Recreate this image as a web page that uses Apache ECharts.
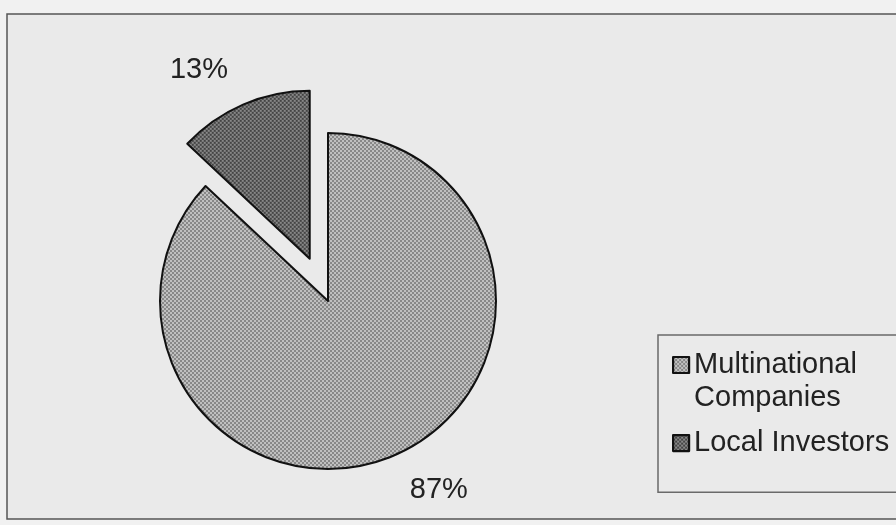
<!DOCTYPE html>
<html>
<head>
<meta charset="utf-8">
<script src="https://cdn.jsdelivr.net/npm/echarts@6/dist/echarts.min.js"></script>
<style>
  html, body { margin: 0; padding: 0; background: #f1f1f1; }
  #chart { width: 896px; height: 525px; }
</style>
</head>
<body>
<div id="chart"></div>
<script>
// Mode of operation of service station business
const categories = ['Multinational Companies', 'Local Investors'];
const shares = [87, 13];
const legendLines = ['Multinational\nCompanies', 'Local Investors'];

const FONT = '"Liberation Sans", Arial, Helvetica, sans-serif';

// Fine checker dither used as the slice fill
function dither(dark, light) {
  const c = document.createElement('canvas');
  c.width = 4; c.height = 4;
  const g = c.getContext('2d');
  g.fillStyle = light; g.fillRect(0, 0, 4, 4);
  g.fillStyle = dark; g.fillRect(0, 0, 2, 2); g.fillRect(2, 2, 2, 2);
  return { image: c, repeat: 'repeat' };
}
const fills = [dither('#888888', '#c0c0c0'), dither('#444444', '#888888')];

// Legend markers: square aligned with the first text line of each entry
const legendIcons = [
  'path://M0,0h16v16h-16z M0,49',
  'path://M0,0 M0,16.5h16v16h-16z M0,49'
];

const chart = echarts.init(document.getElementById('chart'), null, { renderer: 'canvas' });

chart.setOption({
  backgroundColor: '#f1f1f1',
  animation: false,
  graphic: [{
    type: 'rect',
    z: -10,
    shape: { x: 7, y: 14, width: 900, height: 505 },
    style: { fill: '#eaeaea', stroke: '#555555', lineWidth: 1.5 }
  }],
  legend: {
    orient: 'vertical',
    left: 658,
    top: 335,
    padding: [13.5, 40, 23.5, 14],
    itemGap: 3,
    itemWidth: 16,
    itemHeight: 49,
    borderColor: '#6a6a6a',
    borderWidth: 1.5,
    selectedMode: false,
    data: categories.map((name, i) => ({ name, icon: legendIcons[i] })),
    formatter: name => legendLines[categories.indexOf(name)],
    itemStyle: { borderColor: '#111', borderWidth: 2.2 },
    textStyle: { fontFamily: FONT, fontSize: 29, lineHeight: 33, color: '#222222' }
  },
  series: [{
    type: 'pie',
    center: [328, 301],
    radius: 168,
    startAngle: 90,
    clockwise: true,
    avoidLabelOverlap: false,
    selectedMode: 'single',
    selectedOffset: 46,
    emphasis: { disabled: true },
    itemStyle: { borderColor: '#111', borderWidth: 2 },
    select: { itemStyle: { borderColor: '#111', borderWidth: 2 } },
    label: {
      show: true,
      position: 'outside',
      formatter: '{c}%',
      fontFamily: FONT,
      fontSize: 29,
      color: '#222222',
      distanceToLabelLine: 0
    },
    labelLine: { show: false, length: 38, length2: 0 },
    data: categories.map((name, i) => ({
      name,
      value: shares[i],
      selected: i === 1,
      itemStyle: { color: fills[i] }
    }))
  }]
});
</script>
</body>
</html>
